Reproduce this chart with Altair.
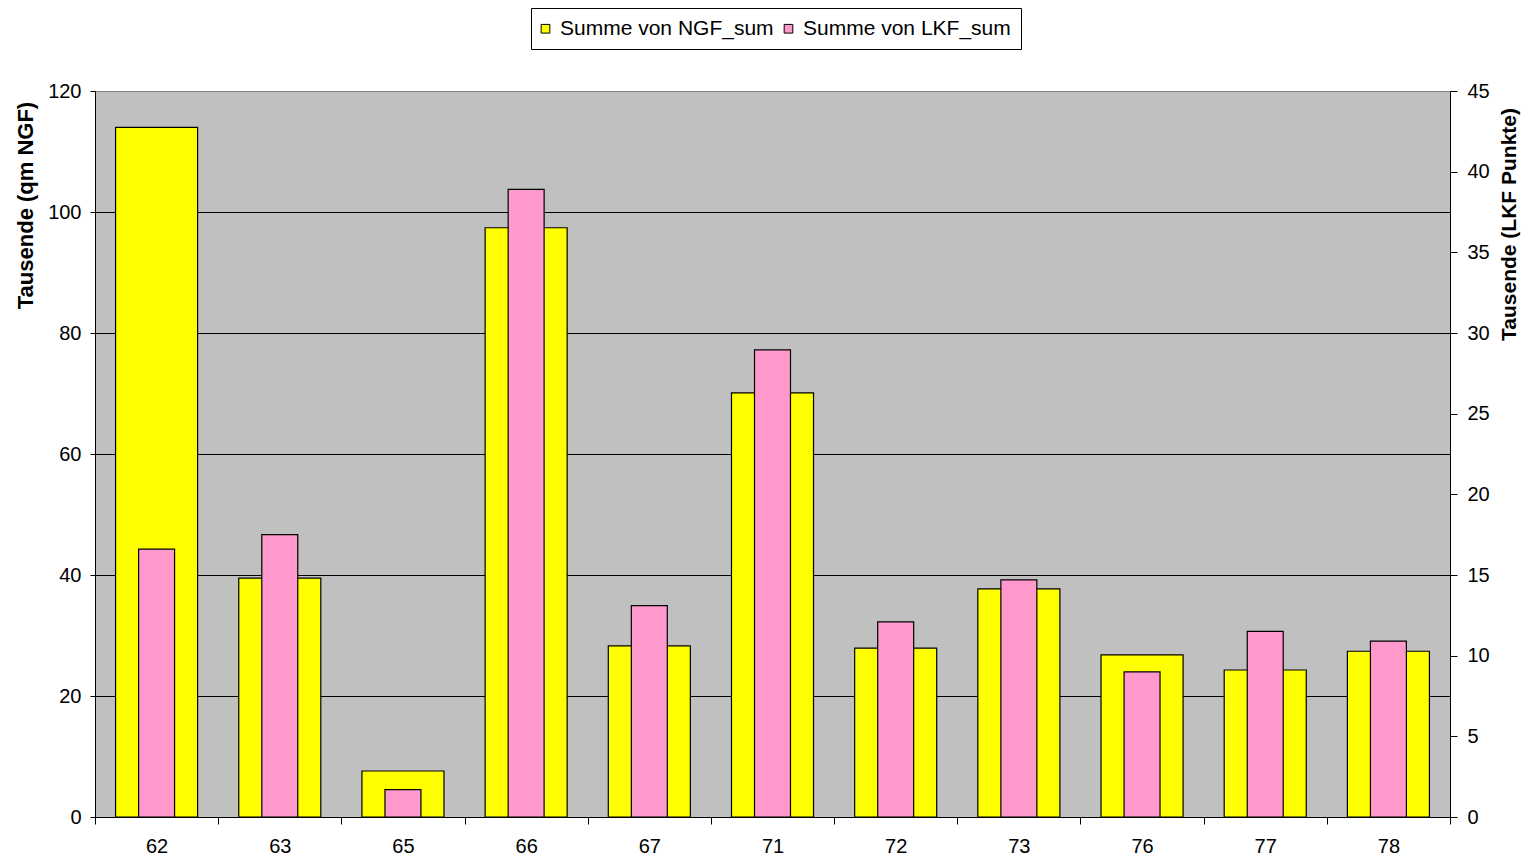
import altair as alt
import pandas as pd

categories = ["62", "63", "65", "66", "67", "71", "72", "73", "76", "77", "78"]
ngf_values = [114.0, 39.5, 7.6, 97.4, 28.3, 70.1, 27.9, 37.7, 26.8, 24.3, 27.4]
lkf_values = [16.6, 17.5, 1.7, 38.9, 13.1, 28.95, 12.1, 14.7, 9.0, 11.5, 10.9]

series_names = ["Summe von NGF_sum", "Summe von LKF_sum"]
series_colors = ["#FFFF00", "#FF99CC"]
left_ticks = [0, 20, 40, 60, 80, 100, 120]
right_ticks = [0, 5, 10, 15, 20, 25, 30, 35, 40, 45]

df = pd.DataFrame({
    "cat": categories,
    "NGF": ngf_values,
    "LKF": lkf_values,
    "s_ngf": [series_names[0]] * len(categories),
    "s_lkf": [series_names[1]] * len(categories),
})

FONT = "Liberation Sans"

xenc = alt.X(
    "cat:N",
    sort=categories,
    scale=alt.Scale(paddingInner=0, paddingOuter=0),
    axis=alt.Axis(
        title=None,
        labelAngle=0,
        labelFontSize=20,
        labelFont=FONT,
        labelColor="black",
        tickBand="extent",
        tickSize=7,
        tickColor="black",
        domainColor="black",
        labelPadding=12,
    ),
)

color_scale = alt.Scale(domain=series_names, range=series_colors)

ngf = alt.Chart(df).mark_bar(
    width=alt.RelativeBandSize(0.666), stroke="black", strokeWidth=1.2
).encode(
    x=xenc,
    y=alt.Y(
        "NGF:Q",
        scale=alt.Scale(domain=[0, 120], nice=False),
        axis=alt.Axis(
            orient="left",
            values=left_ticks,
            title="Tausende (qm NGF)",
            titleFont=FONT,
            titleFontSize=22,
            titleFontWeight="bold",
            titleColor="black",
            titleAngle=-90,
            titleAlign="center",
            titleBaseline="middle",
            titleX=-70,
            titleY=114,
            labelFontSize=20,
            labelFont=FONT,
            labelColor="black",
            tickSize=5,
            tickColor="black",
            domainColor="black",
            labelPadding=9,
            grid=True,
            gridColor={"condition": {"test": "datum.value == 120", "value": "#808080"}, "value": "black"},
            gridOpacity=1,
            gridWidth=1,
        ),
    ),
    color=alt.Color("s_ngf:N", scale=color_scale, title=None),
)

lkf = alt.Chart(df).mark_bar(
    width=alt.RelativeBandSize(0.292), stroke="black", strokeWidth=1.2
).encode(
    x=xenc,
    y=alt.Y(
        "LKF:Q",
        scale=alt.Scale(domain=[0, 45], nice=False),
        axis=alt.Axis(
            orient="right",
            values=right_ticks,
            title="Tausende (LKF Punkte)",
            titleFont=FONT,
            titleFontSize=21,
            titleFontWeight="bold",
            titleColor="black",
            titleAngle=-90,
            titleAlign="center",
            titleBaseline="middle",
            titleX=59,
            titleY=133,
            labelFontSize=20,
            labelFont=FONT,
            labelColor="black",
            tickSize=7,
            tickColor="black",
            domainColor="black",
            labelPadding=10,
            grid=False,
        ),
    ),
    color=alt.Color("s_lkf:N", scale=color_scale, title=None),
)

chart = alt.layer(ngf, lkf).resolve_scale(y="independent").properties(
    width=1355,
    height=726,
    autosize=alt.AutoSizeParams(type="none"),
    padding={"left": 87, "top": 83, "right": 71, "bottom": 38},
    background="white",
).configure_view(
    fill="#C0C0C0", stroke=None
).configure_legend(
    orient="none",
    legendX=436,
    legendY=-83,
    direction="horizontal",
    fillColor="white",
    strokeColor="black",
    padding=10,
    labelFont=FONT,
    labelFontSize=21,
    labelColor="black",
    labelLimit=600,
    symbolType="square",
    symbolSize=75,
    symbolOffset=-6,
    symbolStrokeColor="black",
    symbolStrokeWidth=1,
    symbolOpacity=1,
    columnPadding=8,
    labelOffset=4,
    cornerRadius=0,
)

chart.save("out.html", embed_options={"renderer": "svg", "actions": False})
